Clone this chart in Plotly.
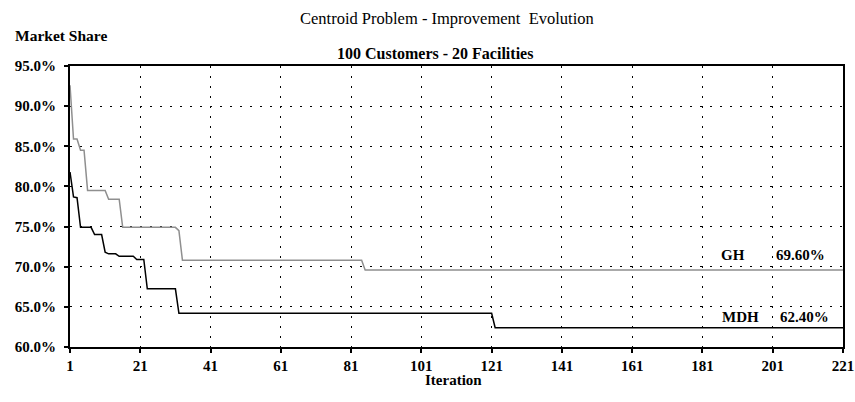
import plotly.graph_objects as go

# GH (gray) series: iteration breakpoints and market share
gh_iter = [1, 2, 3, 4, 5, 6, 11, 12, 15, 16, 31, 32, 33, 84, 85, 221]
gh_share = [0.926, 0.859, 0.859, 0.845, 0.845, 0.795, 0.795, 0.784, 0.784, 0.749,
            0.749, 0.745, 0.708, 0.708, 0.696, 0.696]

# MDH (black) series
mdh_iter = [1, 2, 3, 4, 7, 8, 10, 11, 12, 14, 15, 19, 20, 22, 23, 31, 32, 121, 122, 221]
mdh_share = [0.818, 0.787, 0.786, 0.749, 0.749, 0.740, 0.740, 0.718, 0.716, 0.716,
             0.713, 0.713, 0.709, 0.709, 0.6725, 0.6725, 0.642, 0.642, 0.624, 0.624]

x_ticks = [1, 21, 41, 61, 81, 101, 121, 141, 161, 181, 201, 221]
y_ticks = [0.60, 0.65, 0.70, 0.75, 0.80, 0.85, 0.90, 0.95]

FONT = "Liberation Serif"

W, H = 855, 402
# plot area in window pixels
PL, PR, PT, PB = 70, 843, 66, 347

fig = go.Figure()
fig.add_trace(go.Scatter(x=gh_iter, y=gh_share, mode="lines", name="GH",
                         line=dict(color="#8f8f8f", width=1.5)))
fig.add_trace(go.Scatter(x=mdh_iter, y=mdh_share, mode="lines", name="MDH",
                         line=dict(color="#000000", width=1.5)))

axis_common = dict(showline=True, linecolor="black", linewidth=2, mirror=True,
                   ticks="outside", ticklen=4, tickcolor="black", tickwidth=1.5,
                   showgrid=True, gridcolor="black", gridwidth=1, griddash="2px,8px",
                   zeroline=False, automargin=False, ticklabeloverflow="allow",
                   tickfont=dict(family=FONT, size=15, color="black", weight="bold"))

fig.update_layout(
    width=W, height=H,
    margin=dict(l=PL, r=W - PR, t=PT, b=H - PB),
    paper_bgcolor="white", plot_bgcolor="white",
    showlegend=False,
    font=dict(family=FONT, color="black"),
    xaxis=dict(range=[1, 221], tickvals=x_ticks, ticktext=[str(v) for v in x_ticks],
               **axis_common),
    yaxis=dict(range=[0.60, 0.95], tickvals=y_ticks, tickformat=".1%",
               ticklabelstandoff=5, **axis_common),
)

ann = [
    dict(text="Centroid Problem - Improvement  Evolution", x=447, y=19, size=16.5, bold=False),
    dict(text="100 Customers - 20 Facilities", x=435, y=54, size=16, bold=True),
    dict(text="Market Share", x=61, y=36, size=15.5, bold=True),
    dict(text="Iteration", x=453, y=380, size=15, bold=True),
]
for a in ann:
    fig.add_annotation(text=a["text"], xref="paper", yref="paper",
                       x=(a["x"] - PL) / (PR - PL), y=(PB - a["y"]) / (PB - PT),
                       xanchor="center", yanchor="middle", showarrow=False,
                       font=dict(family=FONT, size=a["size"], color="black",
                                 weight="bold" if a["bold"] else "normal"))

labels = [("GH", 185.8, 0.714), ("69.60%", 201.4, 0.714),
          ("MDH", 186.0, 0.637), ("62.40%", 202.4, 0.637)]
for t, x, y in labels:
    fig.add_annotation(text=t, x=x, y=y, xref="x", yref="y", xanchor="left",
                       yanchor="middle", showarrow=False,
                       font=dict(family=FONT, size=15, color="black", weight="bold"))

fig.write_html("out.html", config={"displayModeBar": False},
               post_script="document.body.style.margin='0';document.body.style.overflow='hidden';")
